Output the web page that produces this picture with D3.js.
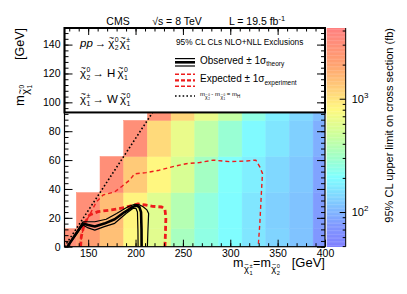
<!DOCTYPE html>
<html><head><meta charset="utf-8">
<script src="https://cdn.jsdelivr.net/npm/d3@7"></script>
<style>
body{margin:0;background:#fff;}
text{font-family:"Liberation Sans",Arial,Helvetica,sans-serif;fill:#000;}
</style>
</head><body>
<script>
// bin centres (GeV) and 95% CL upper limits (fb), one array per m(LSP) row
var massBins = [125,150,175,200,225,250,275,300,325,350,375,400];
var lspBins  = [0,25,50,75,100];
var limit0   = [3000,2200,1450,800,600,330,250,200,160,135,115,75];
var limit25  = [null,3000,1500,850,580,380,260,200,160,130,115,80];
var limit50  = [null,null,3000,1300,820,540,320,210,175,140,120,85];
var limit75  = [null,null,null,3000,1100,650,420,280,195,160,130,95];
var limit100 = [null,null,null,null,2800,1150,650,440,250,175,140,110];
var limits = [limit0,limit25,limit50,limit75,limit100];
var binWidth = 25;

// exclusion contours [m(chargino), m(LSP)]
var observed     = [[128,0],[144.5,16],[150,15],[157,14],[167,16],[178,19],[188.5,24],[197.5,27.7],[201,28.5],[204,27.5],[205.8,24],[206.3,12],[206.4,0]];
var observedUp   = [[128,0],[144.5,17.3],[150,17.3],[157,17.3],[169,19],[180,23],[192,27.7],[199,29.4],[204,29],[208,27.7],[212,25.5],[213.8,23],[213,10],[212.5,0]];
var observedDown = [[128,0],[144.5,15],[150,13],[157,11.5],[167,13.9],[178,16.2],[190,23],[197.5,26.6],[200.5,26.5],[202,24],[202.5,12],[202.7,0]];
var expected     = [[142,0],[142.7,7],[146,16],[151.5,22],[160.5,24.3],[174.5,25.5],[188,27],[202.7,29.6],[210,29],[218,28],[227.6,27.5],[231,26],[232,20],[231.5,8],[231,0]];
var expectedUp   = [[142,0],[143,8],[146.5,16],[151.5,22],[158.6,31],[165.7,35.8],[178,38],[186,42],[193.9,46.2],[199,50.5],[211,51.3],[225,53],[239.5,55.5],[253.5,57.5],[267.7,58.3],[282,60],[299.5,58.9],[317,59.4],[327,60],[331,55.5],[334,50.8],[333,39.3],[331.2,16.2],[329.5,0]];
var higgsMass = 125;

var xTicks = [150,200,250,300,350,400];
var yTicks = [0,20,40,60,80,100,120,140];
var zTicks = [100,1000];

!function(){
var pL=64.5, pR=325, pT=28, pB=246.7;
var x = d3.scaleLinear().domain([125,400]).range([pL,pR]);
var y = d3.scaleLinear().domain([0,151.5]).range([pB,pT]);
var zMin = 49.4, zMax = 4210;
var z = d3.scaleLog().domain([zMin,zMax]).range([pB,pT]);

var stops = [[0,"#8080ff"],[0.1,"#8098ff"],[0.2,"#80c8ff"],[0.32,"#80ffff"],[0.41,"#a0ffc8"],[0.52,"#d0ff98"],[0.63,"#fff880"],[0.74,"#ffc878"],[0.84,"#ffa070"],[1,"#ff8080"]];
var pal = d3.scaleLinear().domain(stops.map(function(s){return s[0];})).range(stops.map(function(s){return s[1];})).clamp(true);
function color(v){
	return pal((Math.log10(v)-Math.log10(zMin))/(Math.log10(zMax)-Math.log10(zMin)));
}

var svg = d3.select("body").append("svg").attr("width",407).attr("height",294);
svg.append("clipPath").attr("id","plotclip").append("rect")
	.attr("x",pL).attr("y",pT).attr("width",pR-pL).attr("height",pB-pT);
var plot = svg.append("g").attr("clip-path","url(#plotclip)");

// histogram cells
var cells = [];
limits.forEach(function(row,i){
	row.forEach(function(v,j){ if(v!==null) cells.push({mx:massBins[j],my:lspBins[i],v:v}); });
});
plot.selectAll("rect.cell").data(cells).enter().append("rect").attr("class","cell")
	.attr("x",function(d){return x(d.mx-binWidth/2);})
	.attr("width",function(d){return x(d.mx+binWidth/2)-x(d.mx-binWidth/2);})
	.attr("y",function(d){return y(d.my+binWidth/2);})
	.attr("height",function(d){return y(d.my-binWidth/2)-y(d.my+binWidth/2);})
	.attr("fill",function(d){return color(d.v);})
	.attr("stroke",function(d){return color(d.v);}).attr("stroke-width",0.5);

var line = d3.line().x(function(d){return x(d[0]);}).y(function(d){return y(d[1]);});
function contour(data,col,w,dash){
	var p = plot.append("path").attr("d",line(data)).attr("fill","none")
		.attr("stroke",col).attr("stroke-width",w).attr("stroke-linejoin","round");
	if(dash) p.attr("stroke-dasharray",dash);
}
contour(expectedUp,"#ee1c1c",1.4,"4,3");
contour(expected,"#ee1c1c",2.8,"5,3");
contour(observedUp,"#000",1.2);
contour(observedDown,"#000",1.2);
contour(observed,"#000",2.6);
// m(chi20) - m(chi10) = mH
contour([[higgsMass,0],[400,400-higgsMass]],"#000",1.6,"1.6,2.2");

// legend box over top of plot
var legY = y(93);
svg.append("rect").attr("x",pL).attr("y",pT).attr("width",pR-pL).attr("height",legY-pT)
	.attr("fill","#fff").attr("stroke","#000").attr("stroke-width",2);
svg.append("rect").attr("x",pL).attr("y",pT).attr("width",pR-pL).attr("height",pB-pT)
	.attr("fill","none").attr("stroke","#000").attr("stroke-width",1.2);

// axes, ROOT style ticks on all sides
function tidy(g){
	g.select(".domain").remove();
	g.selectAll("line").attr("stroke","#000").attr("stroke-width",1);
	g.selectAll("text").attr("font-size",10.5).attr("font-family",null).attr("fill","#000");
}
var xMinor = d3.range(130,401,10), yMinor = d3.range(0,152,4);
svg.append("g").attr("transform","translate(0,"+pB+")").call(d3.axisBottom(x).tickValues(xMinor).tickSize(-3.5).tickFormat("")).call(tidy);
svg.append("g").attr("transform","translate(0,"+pB+")").call(d3.axisBottom(x).tickValues(xTicks).tickSize(-7).tickPadding(3).tickFormat(d3.format("d"))).call(tidy);
svg.append("g").attr("transform","translate(0,"+pT+")").call(d3.axisTop(x).tickValues(xMinor).tickSize(-3.5).tickFormat("")).call(tidy);
svg.append("g").attr("transform","translate(0,"+pT+")").call(d3.axisTop(x).tickValues(xTicks).tickSize(-7).tickFormat("")).call(tidy);
svg.append("g").attr("transform","translate("+pL+",0)").call(d3.axisLeft(y).tickValues(yMinor).tickSize(-4).tickFormat("")).call(tidy);
svg.append("g").attr("transform","translate("+pL+",0)").call(d3.axisLeft(y).tickValues(yTicks).tickSize(-8).tickPadding(4).tickFormat(d3.format("d"))).call(tidy);
svg.append("g").attr("transform","translate("+pR+",0)").call(d3.axisRight(y).tickValues(yMinor).tickSize(-4).tickFormat("")).call(tidy);
svg.append("g").attr("transform","translate("+pR+",0)").call(d3.axisRight(y).tickValues(yTicks).tickSize(-8).tickFormat("")).call(tidy);

// text helpers
function addText(g,px,py,str,size,anchor,style){
	var t = g.append("text").attr("x",px).attr("y",py).attr("font-size",size).text(str);
	if(anchor) t.attr("text-anchor",anchor);
	if(style) t.attr("font-style",style);
	return t.node().getComputedTextLength();
}
// chi with a tilde over it and stacked super/subscript; returns end x
function chi(g,px,py,size,sup,sub){
	var w = addText(g,px,py,"\u03c7",size);
	addText(g,px+w*0.55,py-size*0.5,"~",size*0.75,"middle");
	var w1 = addText(g,px+w+0.5,py-size*0.42,sup,size*0.6);
	var w2 = addText(g,px+w+0.5,py+size*0.3,sub,size*0.6);
	return px+w+0.5+Math.max(w1,w2);
}

// title line
addText(svg,118,25,"CMS",10.5,"middle");
addText(svg,177,25,"\u221as = 8 TeV",10.5,"middle");
var lum = svg.append("text").attr("x",257).attr("y",25).attr("font-size",10.5).attr("text-anchor","middle");
lum.append("tspan").text("L = 19.5 fb");
lum.append("tspan").attr("dy",-4).attr("font-size",7.5).text("-1");

// process description
var fs = 11.5, cx;
cx = 80 + addText(svg,80,47,"pp",fs,null,"italic") + 2;
cx += addText(svg,cx,47,"\u2192",fs) + 2;
cx = chi(svg,cx,47,fs,"0","2") + 1;
chi(svg,cx,47,fs,"\u00b1","1");
cx = chi(svg,80,77,fs,"0","2") + 2;
cx += addText(svg,cx,77,"\u2192 H",fs) + 2;
chi(svg,cx,77,fs,"0","1");
cx = chi(svg,80,103,fs,"\u00b1","1") + 2;
cx += addText(svg,cx,103,"\u2192 W",fs) + 2;
chi(svg,cx,103,fs,"0","1");

// legend entries
addText(svg,176,45,"95% CL CLs NLO+NLL Exclusions",8.3);
function legLine(py,col,w,dash){
	var p = svg.append("line").attr("x1",175).attr("x2",195).attr("y1",py).attr("y2",py)
		.attr("stroke",col).attr("stroke-width",w);
	if(dash) p.attr("stroke-dasharray",dash);
}
legLine(58.6,"#000",1.2); legLine(62.3,"#000",2.6); legLine(66,"#000",1.2);
legLine(74.3,"#ee1c1c",1.4,"4,2"); legLine(80.3,"#ee1c1c",2.2,"4,2"); legLine(86.3,"#ee1c1c",1.4,"4,2");
legLine(96,"#000",1.6,"1.6,2.2");
var t1 = svg.append("text").attr("x",200).attr("y",63.5).attr("font-size",10);
t1.append("tspan").text("Observed \u00b1 1\u03c3");
t1.append("tspan").attr("dy",2.5).attr("font-size",6.5).text("theory");
var t2 = svg.append("text").attr("x",200).attr("y",82).attr("font-size",10);
t2.append("tspan").text("Expected \u00b1 1\u03c3");
t2.append("tspan").attr("dy",2.5).attr("font-size",6.5).text("experiment");
cx = 200 + addText(svg,200,96,"m",6);
cx = chi(svg,cx,98.5,5,"0","2") + 1.5;
cx += addText(svg,cx,96,"- m",6) + 0.5;
cx = chi(svg,cx,98.5,5,"0","1") + 1.5;
cx += addText(svg,cx,96,"= m",6);
addText(svg,cx,98,"H",4.5);

// axis titles
var yt = svg.append("g").attr("transform","translate(23.5,106) rotate(-90)");
cx = addText(yt,0,0,"m",13) + 0.5;
chi(yt,cx,5,11,"0","1");
addText(yt,106-pT,0,"[GeV]",12.5,"end");
cx = 233 + addText(svg,233,267,"m",12.5) + 0.5;
cx = chi(svg,cx,272,9.5,"\u00b1","1") + 0.5;
cx += addText(svg,cx,267,"=m",12.5) + 0.5;
chi(svg,cx,272,9.5,"0","2");
addText(svg,pR,267,"[GeV]",13,"end");

// colour bar
var cbL = 326.7, cbR = 345.7, n = 160;
var lz0 = Math.log10(zMin), lz1 = Math.log10(zMax);
var strips = d3.range(n).map(function(i){
	return [Math.pow(10,lz0+(lz1-lz0)*i/n), Math.pow(10,lz0+(lz1-lz0)*(i+1)/n)];
});
svg.selectAll("rect.strip").data(strips).enter().append("rect").attr("class","strip")
	.attr("x",cbL).attr("width",cbR-cbL)
	.attr("y",function(d){return z(d[1]);})
	.attr("height",function(d){return z(d[0])-z(d[1])+0.3;})
	.attr("fill",function(d){return color(Math.sqrt(d[0]*d[1]));});
var zMinor = [50,60,70,80,90,200,300,400,500,600,700,800,900,2000,3000,4000];
svg.append("g").attr("transform","translate("+cbR+",0)").call(d3.axisRight(z).tickValues(zMinor).tickSize(-3).tickFormat("")).call(tidy);
svg.append("g").attr("transform","translate("+cbR+",0)").call(d3.axisRight(z).tickValues(zTicks).tickSize(-6).tickFormat("")).call(tidy);
svg.append("line").attr("x1",cbR).attr("x2",cbR).attr("y1",pT).attr("y2",pB).attr("stroke","#000");
zTicks.forEach(function(v){
	var t = svg.append("text").attr("x",cbR+6).attr("y",z(v)+4).attr("font-size",11);
	t.append("tspan").text("10");
	t.append("tspan").attr("dy",-5).attr("font-size",8).text(Math.round(Math.log10(v)));
});
var zt = svg.append("g").attr("transform","translate(393,"+pT+") rotate(-90)");
addText(zt,0,0,"95% CL upper limit on cross section (fb)",11,"end");
}();
</script>
</body></html>
